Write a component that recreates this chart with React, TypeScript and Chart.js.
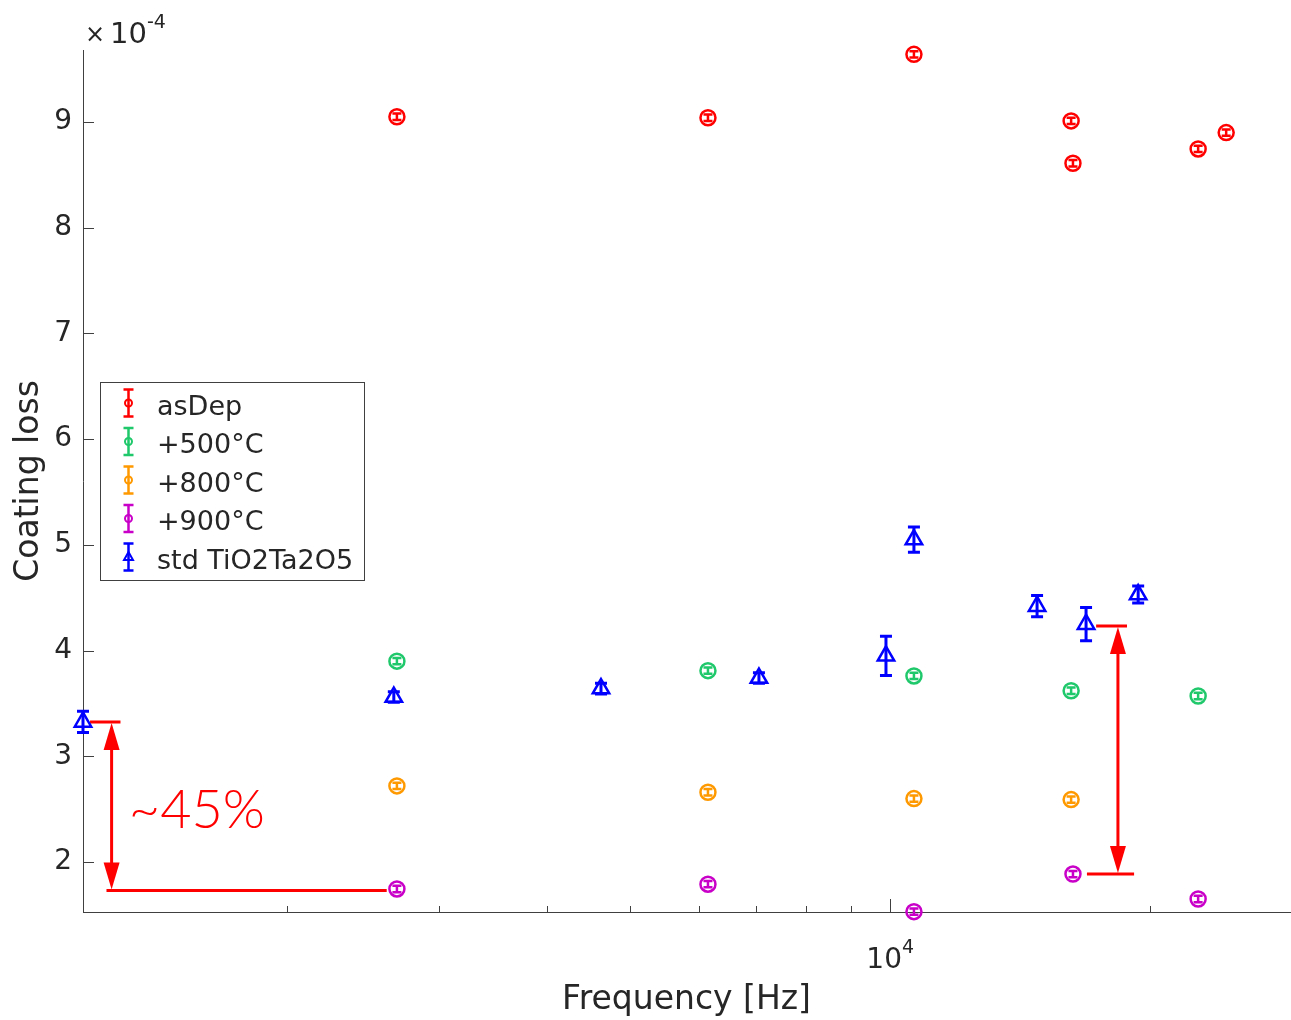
import React, { useEffect, useRef } from 'react';
import { Chart, registerables } from 'chart.js';

Chart.register(...registerables);

// ---------- data (loss in units of 1e-4) ----------
const freqAsDep = [2680, 6150, 10660, 16220, 16300, 22770, 24540];
const lossAsDep = [9.05, 9.04, 9.64, 9.01, 8.61, 8.745, 8.9];
const errAsDep = [0.03, 0.03, 0.03, 0.03, 0.03, 0.03, 0.03];

const freq500 = [2680, 6150, 10660, 16220, 22770];
const loss500 = [3.9, 3.81, 3.76, 3.62, 3.57];
const err500 = [0.03, 0.03, 0.03, 0.03, 0.03];

const freq800 = [2680, 6150, 10660, 16220];
const loss800 = [2.72, 2.66, 2.6, 2.59];
const err800 = [0.03, 0.03, 0.03, 0.03];

const freq900 = [2680, 6150, 10660, 16300, 22770];
const loss900 = [1.745, 1.79, 1.53, 1.886, 1.65];
const err900 = [0.03, 0.03, 0.03, 0.03, 0.03];

const freqStd = [1159, 2658, 4622, 7047, 9893, 10660, 14810, 16880, 19400];
const lossStd = [3.325, 3.56, 3.64, 3.74, 3.95, 5.05, 4.42, 4.25, 4.53];
const errStd = [0.1, 0.05, 0.05, 0.05, 0.186, 0.12, 0.1, 0.158, 0.08];

const seriesLabels = ['asDep', '+500°C', '+800°C', '+900°C', 'std TiO2Ta2O5'];
const seriesColors = ['#FF0000', '#1FC86A', '#FF9900', '#C800C8', '#0000FF'];

const yTicks = [2, 3, 4, 5, 6, 7, 8, 9];
const xMinorTicks = [2000, 3000, 4000, 5000, 6000, 7000, 8000, 9000, 20000];
const xMajorTicks = [10000];
const xMin = 1159;
const xMax = 29100;
const yMin = 1.527;
const yMax = 9.681;

// annotation arrows: [left, right]
const arrowFreq = [1251, 18380];
const arrowTop = [3.325, 4.233];
const arrowBottom = [1.73, 1.886];
const capTopFrom = [1181, 17340];
const capTopTo = [1281, 18830];
const capBotFrom = [1234, 16920];
const capBotTo = [2608, 19190];
const noteText = '~45%';
const noteFreq = 1310;
const noteLoss = 2.32;

const TEXT = '#262626';
const AXIS = '#404040';
const FONT = "'DejaVu Sans', sans-serif";

const pts = (xs: number[], ys: number[]) => xs.map((x, i) => ({ x, y: ys[i] }));

const errorBarPlugin = {
  id: 'errorBars',
  beforeDatasetsDraw(chart: any) {
    const ctx = chart.ctx;
    const xs = chart.scales.x;
    const ys = chart.scales.y;
    chart.data.datasets.forEach((ds: any) => {
      const errs = ds.errors as number[];
      if (!errs) return;
      ctx.save();
      ctx.strokeStyle = ds.pointBorderColor;
      ctx.lineWidth = ds.errLineWidth;
      ds.data.forEach((p: any, i: number) => {
        const px = xs.getPixelForValue(p.x);
        const y1 = ys.getPixelForValue(p.y - errs[i]);
        const y2 = ys.getPixelForValue(p.y + errs[i]);
        const cw = ds.capHalf;
        ctx.beginPath();
        ctx.moveTo(px, y1);
        ctx.lineTo(px, y2);
        ctx.moveTo(px - cw, y1);
        ctx.lineTo(px + cw, y1);
        ctx.moveTo(px - cw, y2);
        ctx.lineTo(px + cw, y2);
        ctx.stroke();
      });
      ctx.restore();
    });
  },
};

function arrowHead(ctx: any, x: number, tipY: number, dir: number) {
  const len = 27;
  const hw = 8;
  ctx.beginPath();
  ctx.moveTo(x, tipY);
  ctx.lineTo(x - hw, tipY + dir * len);
  ctx.lineTo(x + hw, tipY + dir * len);
  ctx.closePath();
  ctx.fill();
}

const annotationPlugin = {
  id: 'annotations',
  beforeDatasetsDraw(chart: any) {
    const ctx = chart.ctx;
    const xs = chart.scales.x;
    const ys = chart.scales.y;
    ctx.save();
    ctx.strokeStyle = '#FF0000';
    ctx.fillStyle = '#FF0000';
    ctx.lineWidth = 3;
    for (let i = 0; i < arrowFreq.length; i++) {
      const ax = xs.getPixelForValue(arrowFreq[i]);
      const yt = ys.getPixelForValue(arrowTop[i]);
      const yb = ys.getPixelForValue(arrowBottom[i]);
      ctx.beginPath();
      ctx.moveTo(xs.getPixelForValue(capTopFrom[i]), yt);
      ctx.lineTo(xs.getPixelForValue(capTopTo[i]), yt);
      ctx.moveTo(xs.getPixelForValue(capBotFrom[i]), yb);
      ctx.lineTo(xs.getPixelForValue(capBotTo[i]), yb);
      ctx.moveTo(ax, yt + 20);
      ctx.lineTo(ax, yb - 20);
      ctx.stroke();
      arrowHead(ctx, ax, yt + 1, 1);
      arrowHead(ctx, ax, yb - 1, -1);
    }
    ctx.font = "300 54px Lato, 'DejaVu Sans', sans-serif";
    ctx.textAlign = 'left';
    ctx.textBaseline = 'alphabetic';
    ctx.fillText(noteText, xs.getPixelForValue(noteFreq), ys.getPixelForValue(noteLoss));
    ctx.restore();
  },
};

const axesPlugin = {
  id: 'axesDecor',
  afterDatasetsDraw(chart: any) {
    const ctx = chart.ctx;
    const xs = chart.scales.x;
    const ys = chart.scales.y;
    const area = chart.chartArea;
    ctx.save();
    ctx.strokeStyle = AXIS;
    ctx.lineWidth = 1;
    ctx.beginPath();
    yTicks.forEach((v) => {
      const y = Math.round(ys.getPixelForValue(v)) + 0.5;
      ctx.moveTo(area.left, y);
      ctx.lineTo(area.left + 11, y);
    });
    xMinorTicks.forEach((v) => {
      const x = Math.round(xs.getPixelForValue(v)) + 0.5;
      ctx.moveTo(x, area.bottom);
      ctx.lineTo(x, area.bottom - 6);
    });
    xMajorTicks.forEach((v) => {
      const x = Math.round(xs.getPixelForValue(v)) + 0.5;
      ctx.moveTo(x, area.bottom);
      ctx.lineTo(x, area.bottom - 13);
    });
    ctx.stroke();

    // x tick label 10^4
    ctx.fillStyle = TEXT;
    xMajorTicks.forEach((v) => {
      const x = xs.getPixelForValue(v);
      const exp = String(Math.round(Math.log10(v)));
      ctx.font = `28px ${FONT}`;
      ctx.textAlign = 'right';
      ctx.textBaseline = 'alphabetic';
      ctx.fillText('10', x + 12, 968);
      ctx.font = `19px ${FONT}`;
      ctx.textAlign = 'left';
      ctx.fillText(exp, x + 12, 953);
    });

    // exponent label of the y axis
    ctx.font = `24px ${FONT}`;
    ctx.textAlign = 'center';
    ctx.textBaseline = 'alphabetic';
    ctx.fillText('×', 95, 42);
    ctx.font = `29px ${FONT}`;
    ctx.textAlign = 'left';
    ctx.fillText('10', 110, 43);
    ctx.font = `19px ${FONT}`;
    ctx.fillText('-4', 147, 28);
    ctx.restore();
  },
  afterDraw(chart: any) {
    // legend
    const ctx = chart.ctx;
    ctx.save();
    const bx = 100.5, by = 382.5, bw = 264, bh = 198;
    ctx.fillStyle = '#FFFFFF';
    ctx.fillRect(bx, by, bw, bh);
    ctx.strokeStyle = AXIS;
    ctx.lineWidth = 1;
    ctx.strokeRect(bx, by, bw, bh);
    const rows = [403, 441.5, 480, 518.5, 557];
    seriesLabels.forEach((lab, i) => {
      const cy = rows[i];
      const cx = 128.5;
      const col = seriesColors[i];
      ctx.strokeStyle = col;
      ctx.lineWidth = 2.5;
      ctx.beginPath();
      ctx.moveTo(cx, cy - 13.5);
      ctx.lineTo(cx, cy + 13.5);
      ctx.moveTo(cx - 5, cy - 13.5);
      ctx.lineTo(cx + 5, cy - 13.5);
      ctx.moveTo(cx - 5, cy + 13.5);
      ctx.lineTo(cx + 5, cy + 13.5);
      ctx.stroke();
      ctx.lineWidth = 2;
      ctx.beginPath();
      if (i === 4) {
        ctx.moveTo(cx, cy - 5);
        ctx.lineTo(cx + 4.5, cy + 3);
        ctx.lineTo(cx - 4.5, cy + 3);
        ctx.closePath();
      } else {
        ctx.arc(cx, cy, 3.5, 0, Math.PI * 2);
      }
      ctx.stroke();
      ctx.fillStyle = TEXT;
      ctx.font = `27px ${FONT}`;
      ctx.textAlign = 'left';
      ctx.textBaseline = 'alphabetic';
      ctx.fillText(lab, 157, cy + 11.5);
    });
    ctx.restore();
  },
};

const zeroPad = (s: any) => {
  s.paddingLeft = 0;
  s.paddingRight = 0;
  s.paddingTop = 0;
  s.paddingBottom = 0;
};

export default function App() {
  const ref = useRef<HTMLCanvasElement | null>(null);

  useEffect(() => {
    if (!ref.current) return;
    const freqs = [freqAsDep, freq500, freq800, freq900, freqStd];
    const losses = [lossAsDep, loss500, loss800, loss900, lossStd];
    const errs = [errAsDep, err500, err800, err900, errStd];
    const datasets = seriesLabels.map((lab, i) => {
      const isStd = i === 4;
      return {
        label: lab,
        data: pts(freqs[i], losses[i]),
        errors: errs[i],
        errLineWidth: isStd ? 3 : 2.5,
        capHalf: isStd ? 6 : 4.5,
        showLine: false,
        pointStyle: isStd ? 'triangle' : 'circle',
        pointRadius: isStd ? 9.5 : 7.5,
        pointHoverRadius: isStd ? 9.5 : 7.5,
        pointBorderWidth: 2.5,
        pointBorderColor: seriesColors[i],
        pointBackgroundColor: 'rgba(255,255,255,0)',
        borderColor: seriesColors[i],
        backgroundColor: 'rgba(255,255,255,0)',
        clip: false,
      };
    });

    const chart = new Chart(ref.current, {
      type: 'scatter',
      data: { datasets } as any,
      options: {
        animation: false,
        responsive: false,
        devicePixelRatio: 1,
        events: [],
        layout: { autoPadding: false, padding: { left: 0, right: 1, top: 50, bottom: 0 } },
        plugins: {
          legend: { display: false },
          tooltip: { enabled: false },
          title: { display: false },
        },
        scales: {
          x: {
            type: 'logarithmic',
            min: xMin,
            max: xMax,
            afterFit: (s: any) => {
              s.height = 108;
              zeroPad(s);
            },
            grid: { display: false, drawTicks: false },
            border: { display: true, color: AXIS, width: 1 },
            ticks: { display: false },
            title: {
              display: true,
              text: 'Frequency [Hz]',
              color: TEXT,
              font: { family: FONT, size: 33 },
              padding: { top: 0, bottom: 0 },
            },
          },
          y: {
            type: 'linear',
            min: yMin,
            max: yMax,
            afterFit: (s: any) => {
              s.width = 83;
              zeroPad(s);
            },
            afterBuildTicks: (s: any) => {
              s.ticks = yTicks.map((v) => ({ value: v }));
            },
            grid: { display: false, drawTicks: false },
            border: { display: true, color: AXIS, width: 1 },
            ticks: {
              color: TEXT,
              padding: 11,
              font: { family: FONT, size: 28 },
              callback: (v: any) => String(v),
            },
            title: {
              display: true,
              text: 'Coating loss',
              color: TEXT,
              font: { family: FONT, size: 33 },
              padding: { top: 10, bottom: 0 },
            },
          },
        },
      } as any,
      plugins: [errorBarPlugin, annotationPlugin, axesPlugin],
    });
    return () => chart.destroy();
  }, []);

  return (
    <div style={{ position: 'absolute', left: 0, top: 0, width: 1291, height: 1020, background: '#fff' }}>
      <canvas ref={ref} width={1291} height={1020} style={{ display: 'block', width: 1291, height: 1020 }} />
    </div>
  );
}
